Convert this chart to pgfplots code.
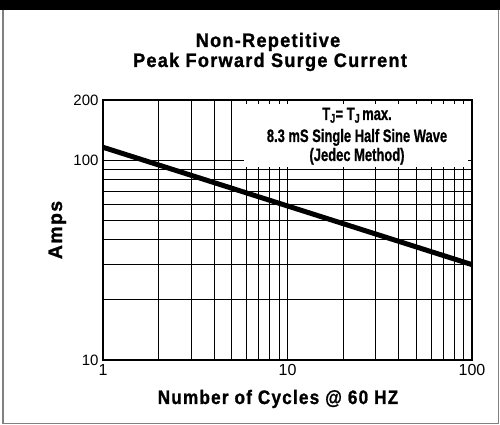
\documentclass[border=0pt]{standalone}
\usepackage{fontspec}
\setmainfont{Liberation Sans}
\usepackage{graphicx}
\usepackage{pgfplots}
\pgfplotsset{compat=1.18}
\newcommand{\lab}[2]{\scalebox{#1}[1]{\bfseries\fontsize{19.5}{19.5}\selectfont\addfontfeature{LetterSpace=7,FakeBold=1.2}#2}}
\begin{document}
\begin{tikzpicture}[x=1pt,y=1pt]
\useasboundingbox (0,0) rectangle (500,425);
\fill[white] (0,0) rectangle (500,425);
\fill[black] (0,415) rectangle (500,425);
\draw[black!50, line width=1.5pt] (3,415) -- (3,1.5) -- (498.5,1.5) -- (498.5,415);
\begin{axis}[at={(103pt,65pt)}, anchor=south west, width=369pt, height=260pt, scale only axis,
 xmode=log, ymode=log, xmin=1, xmax=100, ymin=10, ymax=200,
 xtick={1,10,100}, xticklabels={1,10,100},
 ytick={10,100,200}, yticklabels={10,100,200},
 minor xtick={2,3,4,5,6,7,8,9,20,30,40,50,60,70,80,90},
 minor ytick={20,30,40,50,60,70,80,90},
 grid=both,
 major grid style={black, line width=1pt},
 minor grid style={black, line width=1pt},
 axis line style={black, line width=1.2pt},
 tick style={black, line width=1pt},
 major tick length=4pt, minor tick length=4pt, tick align=inside,
 xticklabel style={font=\fontsize{16}{16}\selectfont, yshift=-1pt},
 yticklabel style={font=\fontsize{15}{15}\selectfont, xshift=-1pt},
 /pgf/number format/assume math mode=true,
]
\addplot[black, line width=5pt] coordinates {(1,116) (100,30)};
\end{axis}
\fill[white] (244,258) rectangle (468,321);
\begin{scope}[every node/.style={inner sep=0pt, font=\bfseries\fontsize{18}{18}\selectfont\addfontfeature{FakeBold=1}}]
\node[anchor=base] at (357,305) {\scalebox{0.72}[1]{T\textsubscript{J}= T\textsubscript{J}\,max.}};
\node[anchor=base] at (357,283) {\scalebox{0.72}[1]{8.3 mS Single Half Sine Wave}};
\node[anchor=base] at (357,264) {\scalebox{0.72}[1]{(Jedec Method)}};
\end{scope}
\node[anchor=base, inner sep=0pt] at (268,378) {\lab{0.93}{Non-Repetitive}};
\node[anchor=base, inner sep=0pt] at (270,358) {\lab{0.93}{Peak Forward Surge Current}};
\node[anchor=base, inner sep=0pt] at (278,21) {\lab{0.88}{Number of Cycles @ 60 HZ}};
\node[anchor=base, inner sep=0pt, rotate=90] at (62,195) {\lab{1}{Amps}};
\end{tikzpicture}
\end{document}
